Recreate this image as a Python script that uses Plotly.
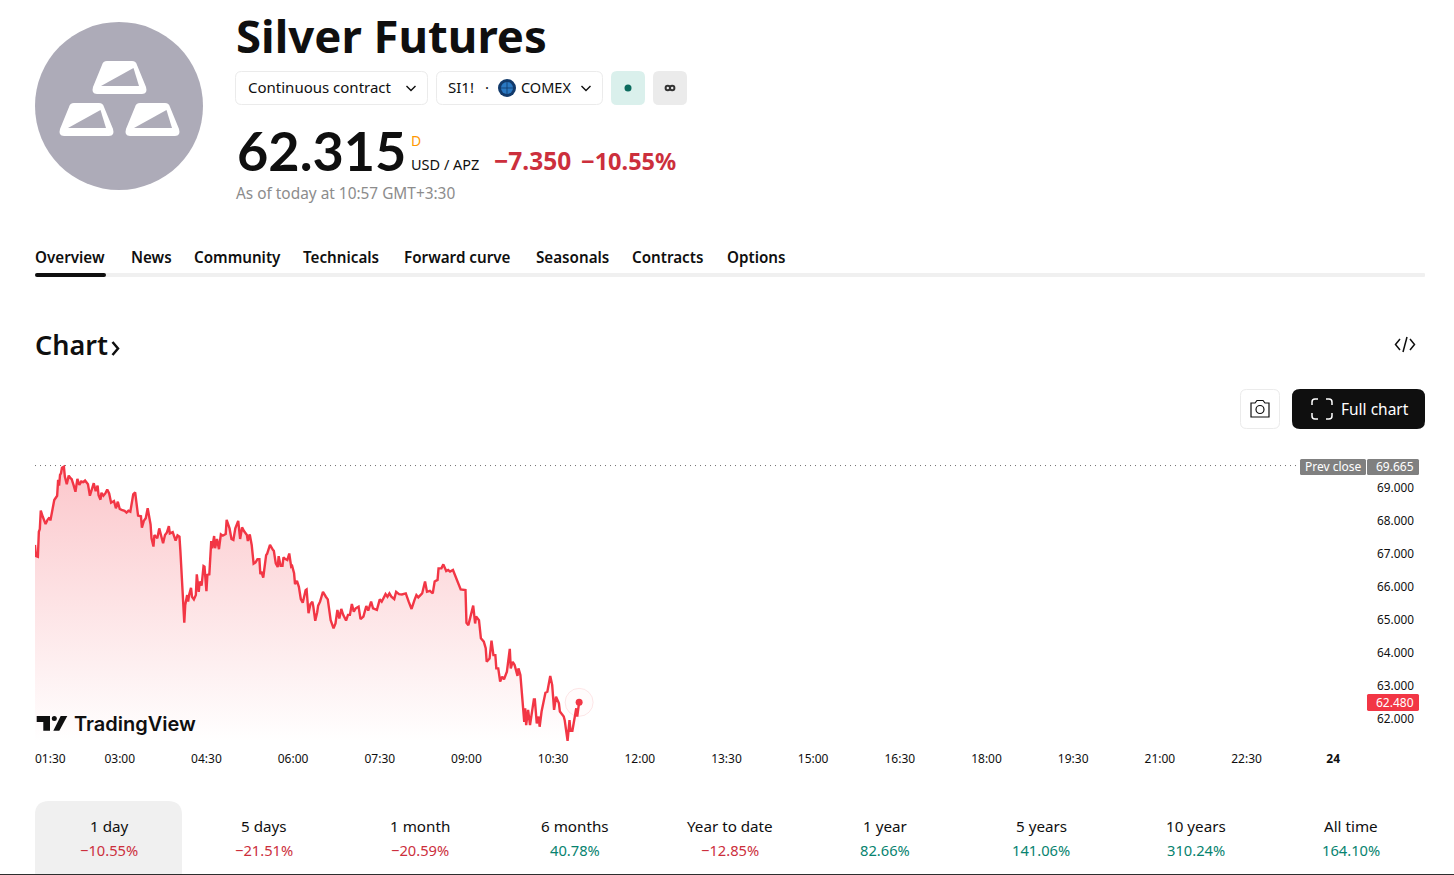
import plotly.graph_objects as go

W = 1454
H = 875
FONT = "Noto Sans"

# minutes since midnight
times = [
    92, 93, 95, 96, 97, 98, 100, 101, 103, 105, 107, 108, 110, 112, 115, 116, 117, 118, 119, 120,
    122, 123, 125, 127, 129, 130, 132, 134, 136, 138, 140, 142, 144, 147, 149, 151, 153, 155, 157, 158,
    160, 161, 163, 165, 167, 169, 171, 174, 176, 178, 180, 182, 185, 187, 189, 191, 194, 196, 197, 199,
    202, 203, 205, 207, 209, 212, 213, 215, 216, 219, 221, 223, 225, 227, 229, 231, 232, 235, 238, 240,
    242, 243, 245, 246, 247, 248, 250, 251, 252, 254, 255, 257, 259, 260, 262, 263, 265, 267, 268, 270,
    271, 273, 275, 276, 278, 279, 281, 283, 285, 287, 290, 291, 294, 296, 298, 300, 303, 305, 307, 309,
    312, 313, 315, 317, 319, 321, 323, 325, 326, 327, 329, 330, 332, 333, 335, 336, 339, 340, 342, 344,
    345, 347, 349, 350, 352, 354, 356, 358, 359, 361, 362, 364, 366, 367, 368, 370, 373, 374, 376, 378,
    380, 381, 383, 385, 386, 388, 391, 394, 396, 399, 402, 404, 406, 408, 410, 412, 415, 417, 419, 421,
    423, 425, 428, 430, 433, 436, 438, 441, 443, 447, 450, 452, 456, 458, 460, 462, 465, 467, 470, 473,
    477, 480, 483, 486, 488, 490, 494, 497, 499, 502, 505, 507, 510, 511, 514, 516, 519, 521, 523, 526,
    528, 531, 534, 539, 540, 542, 545, 547, 549, 550, 553, 555, 558, 560, 561, 564, 566, 568, 570, 571,
    573, 575, 577, 579, 582, 585, 586, 588, 590, 593, 594, 596, 600, 601, 602, 604, 606, 608, 610, 611,
    613, 615, 616, 618, 620, 622, 624, 627, 629, 631, 633, 636, 637, 641, 642, 645, 647, 648, 650, 653,
    654, 655, 657,
]
prices = [
    67.26, 66.92, 66.90, 67.66, 67.74, 68.30, 68.12, 68.02, 67.89, 68.02, 68.09, 68.00, 68.37, 68.62, 68.75, 69.23, 69.06, 69.38, 69.43, 69.60,
    69.63, 69.33, 69.10, 69.36, 69.28, 69.26, 69.08, 68.87, 69.26, 69.08, 69.18, 69.16, 69.21, 69.10, 68.75, 68.98, 69.13, 68.89, 69.06, 68.77,
    68.63, 68.84, 68.75, 68.82, 68.94, 68.82, 68.54, 68.59, 68.37, 68.57, 68.35, 68.32, 68.29, 68.24, 68.30, 68.27, 68.79, 68.85, 68.57, 68.15,
    68.13, 67.78, 67.99, 68.07, 68.37, 67.88, 67.46, 67.21, 67.56, 67.46, 67.76, 67.56, 67.31, 67.56, 67.64, 67.83, 67.61, 67.65, 67.39, 67.55,
    67.51, 67.06, 65.94, 65.24, 64.90, 65.44, 65.74, 65.54, 65.74, 65.96, 65.69, 65.61, 65.74, 66.37, 65.84, 66.15, 66.03, 66.62, 66.60, 65.86,
    66.35, 66.37, 67.38, 67.16, 67.53, 67.16, 67.44, 67.13, 67.58, 67.54, 67.59, 68.02, 67.76, 67.44, 67.41, 67.76, 67.99, 67.44, 67.79, 67.68,
    67.56, 67.38, 67.58, 67.26, 66.69, 66.73, 66.83, 66.83, 66.37, 66.45, 66.27, 66.50, 66.95, 66.99, 67.21, 67.26, 67.11, 67.08, 66.70, 66.59,
    66.92, 66.63, 66.63, 66.88, 66.83, 66.80, 67.00, 66.60, 66.62, 66.40, 66.07, 66.17, 65.99, 65.69, 65.62, 65.51, 65.89, 65.91, 65.19, 65.47,
    65.54, 65.39, 64.96, 65.22, 65.42, 65.54, 65.84, 65.69, 65.61, 64.98, 64.73, 64.88, 65.29, 65.03, 65.32, 65.14, 64.97, 65.14, 65.14, 65.47,
    65.24, 65.34, 65.39, 65.01, 65.09, 65.41, 65.27, 65.54, 65.34, 65.29, 65.61, 65.54, 65.77, 65.69, 65.79, 65.69, 65.62, 65.84, 65.77, 65.76,
    65.79, 65.54, 65.32, 65.59, 65.74, 65.67, 65.79, 66.15, 65.84, 65.87, 65.79, 66.15, 66.20, 66.55, 66.55, 66.67, 66.47, 66.50, 66.45, 66.50,
    66.35, 66.15, 65.91, 65.89, 64.90, 64.83, 65.14, 65.42, 64.88, 65.09, 64.98, 64.43, 64.33, 64.13, 63.72, 63.82, 64.36, 63.92, 63.92, 63.52,
    63.52, 63.12, 63.27, 63.19, 63.42, 64.11, 63.52, 63.72, 63.62, 63.29, 63.52, 63.32, 61.90, 62.31, 61.80, 62.26, 61.80, 62.21, 62.58, 62.58,
    61.85, 62.06, 61.75, 62.21, 62.56, 62.78, 62.81, 63.29, 63.02, 62.26, 62.66, 62.46, 62.21, 62.06, 61.95, 61.32, 61.95, 61.63, 61.63, 62.06,
    62.31, 62.06, 62.49,
]
prev_close = 69.665
last_label = "62.480"
prev_label = "69.665"

x_ticks = [180, 270, 360, 450, 540, 630, 720, 810, 900, 990, 1080, 1170, 1260, 1350, 1440]
x_labels = ["03:00", "04:30", "06:00", "07:30", "09:00", "10:30", "12:00", "13:30", "15:00",
            "16:30", "18:00", "19:30", "21:00", "22:30", "<b>24</b>"]
y_ticks = [62, 63, 64, 65, 66, 67, 68, 69]

nav_tabs = ["Overview", "News", "Community", "Technicals", "Forward curve", "Seasonals", "Contracts", "Options"]
nav_left = [34, 130, 193, 302, 403, 535, 631, 726]

periods = ["1 day", "5 days", "1 month", "6 months", "Year to date", "1 year", "5 years", "10 years", "All time"]
changes = ["−10.55%", "−21.51%", "−20.59%", "40.78%", "−12.85%", "82.66%", "141.06%", "310.24%", "164.10%"]
period_center = [109, 264, 420, 575, 730, 885, 1041, 1196, 1351]

RED = "#f23645"
DARK_RED = "#cc2f3c"
GREEN = "#07836f"
INK = "#0f0f0f"
LOGO = "#adabb8"


def P(x, y):
    return f"{x / W:.5f},{1 - y / H:.5f}"


def path(*cmds):
    # M/L/Q commands given in page pixels
    out = []
    for c in cmds:
        pts = " ".join(P(*p) for p in c[1:])
        out.append(c[0] + pts)
    return " ".join(out)


def rounded(x0, y0, x1, y1, r):
    return path(("M", (x0 + r, y0)), ("L", (x1 - r, y0)), ("Q", (x1, y0), (x1, y0 + r)),
                ("L", (x1, y1 - r)), ("Q", (x1, y1), (x1 - r, y1)), ("L", (x0 + r, y1)),
                ("Q", (x0, y1), (x0, y1 - r)), ("L", (x0, y0 + r)), ("Q", (x0, y0), (x0 + r, y0))) + " Z"


def ingot(x0, y0):
    body = path(("M", (x0 + 15, y0)), ("L", (x0 + 40, y0)), ("Q", (x0 + 44, y0), (x0 + 45, y0 + 4)),
                ("L", (x0 + 54, y0 + 26)), ("Q", (x0 + 56, y0 + 33), (x0 + 50, y0 + 33)),
                ("L", (x0 + 5, y0 + 33)), ("Q", (x0 - 1, y0 + 33), (x0 + 1, y0 + 26)),
                ("L", (x0 + 10, y0 + 4)), ("Q", (x0 + 11, y0), (x0 + 15, y0))) + " Z"
    cut = path(("M", (x0 + 9, y0 + 25)), ("L", (x0 + 47, y0 + 25)), ("L", (x0 + 41.5, y0 + 7))) + " Z"
    return body, cut


shapes = []


def add_path(d, fill=None, line=None, width=1):
    shapes.append(dict(type="path", path=d, xref="paper", yref="paper",
                       fillcolor=fill or "rgba(0,0,0,0)",
                       line=dict(color=line or "rgba(0,0,0,0)", width=width if line else 0)))


def add_circle(cx, cy, r, fill=None, line=None, width=1):
    shapes.append(dict(type="circle", xref="paper", yref="paper",
                       x0=(cx - r) / W, x1=(cx + r) / W, y0=1 - (cy + r) / H, y1=1 - (cy - r) / H,
                       fillcolor=fill or "rgba(0,0,0,0)",
                       line=dict(color=line or "rgba(0,0,0,0)", width=width if line else 0)))


notes = []


def add_text(x, y, text, size, color=INK, anchor="left", weight=400, family=FONT):
    notes.append(dict(x=x / W, y=1 - y / H, xref="paper", yref="paper", text=text, showarrow=False,
                      xanchor=anchor, yanchor="middle", borderpad=0,
                      font=dict(family=family, size=size, color=color, weight=weight)))


# header logo
add_circle(119, 106, 84, fill=LOGO)
for ix, iy in [(92, 61), (59, 103), (125, 103)]:
    body, cut = ingot(ix, iy)
    add_path(body, fill="white")
    add_path(cut, fill=LOGO)

# header text and buttons
add_text(234.5, 34.5, "Silver Futures", 45.5, weight=700)
add_path(rounded(235.5, 71.5, 427.5, 104.5, 6), fill="white", line="#ebebeb")
add_text(246.5, 87.5, "Continuous contract", 15)
add_path(path(("M", (406.5, 86)), ("L", (411, 90.5)), ("L", (415.5, 86))), line=INK, width=1.4)
add_path(rounded(436.5, 71.5, 602.5, 104.5, 6), fill="white", line="#ebebeb")
add_text(446.5, 87.5, "SI1!", 15)
add_text(487, 87.5, "·", 15, anchor="center")
add_circle(507, 88, 9, fill="#123a6b")
add_circle(507, 88, 6, fill="#2a78c2")
add_path(path(("M", (501, 88)), ("L", (513, 88))), line="#123a6b", width=0.8)
add_path(path(("M", (507, 82)), ("L", (507, 94))), line="#123a6b", width=0.8)
add_text(519.5, 87.5, "COMEX", 14.5)
add_path(path(("M", (581.5, 86)), ("L", (586, 90.5)), ("L", (590.5, 86))), line=INK, width=1.4)
add_path(rounded(611, 71, 645, 105, 6), fill="#daf0ec")
add_circle(628, 88, 3.5, fill="#0b6b5e")
add_path(rounded(653, 71, 687, 105, 6), fill="#ebebeb")
add_circle(667.8, 88, 2.2, line="#333333", width=2)
add_circle(672.2, 88, 2.2, line="#333333", width=2)

add_text(236, 150, "62.315", 54, weight=700, family="Lato")
add_text(409.5, 140, "D", 14, color="#ff9800")
add_text(409.5, 164, "USD / APZ", 14.5)
add_text(492.5, 160.5, "−7.350", 24.5, color=DARK_RED, weight=700)
add_text(580, 160.5, "−10.55%", 23.5, color=DARK_RED, weight=700)
add_text(234.5, 193, "As of today at 10:57 GMT+3:30", 15.4, color="#8c8c8c")

# nav tabs
for name, left in zip(nav_tabs, nav_left):
    add_text(left, 256.5, name, 15.2, weight=600)
add_path(rounded(35, 273, 1425, 277, 1), fill="#f0f0f0")
add_path(rounded(35, 273, 106, 277, 2), fill=INK)

# section header
add_text(34, 344.5, "Chart", 27, weight=600)
add_path(path(("M", (112.5, 342)), ("L", (118, 348.5)), ("L", (112.5, 355))), line=INK, width=2.5)
add_path(path(("M", (1400, 339)), ("L", (1395.5, 344.5)), ("L", (1400, 350))), line=INK, width=1.5)
add_path(path(("M", (1410, 339)), ("L", (1414.5, 344.5)), ("L", (1410, 350))), line=INK, width=1.5)
add_path(path(("M", (1407, 337)), ("L", (1403, 352))), line=INK, width=1.5)

# camera and full chart buttons
add_path(rounded(1240.5, 389.5, 1279.5, 428.5, 6), fill="white", line="#ebebeb")
add_path(path(("M", (1251, 403)), ("L", (1255, 403)), ("L", (1257, 400.5)), ("L", (1263, 400.5)), ("L", (1265, 403)),
              ("L", (1269, 403)), ("L", (1269, 417)), ("L", (1251, 417))) + " Z", line=INK, width=1.2)
add_circle(1260, 409.5, 4, line=INK, width=1.2)
add_path(rounded(1292, 389, 1425, 429, 8), fill=INK)
for sx, sy in [(1312, 399), (1332, 399), (1312, 419), (1332, 419)]:
    dx = 1 if sx == 1312 else -1
    dy = 1 if sy == 399 else -1
    add_path(path(("M", (sx, sy + 6 * dy)), ("L", (sx, sy + 3 * dy)), ("Q", (sx, sy), (sx + 3 * dx, sy)),
                  ("L", (sx + 6 * dx, sy))), line="white", width=1.5)
add_text(1339.5, 408.5, "Full chart", 15.5, color="white")

# price badges
shapes.append(dict(type="line", xref="paper", yref="y", x0=35 / W, x1=1297 / W, y0=prev_close, y1=prev_close,
                   line=dict(color="#707070", width=1, dash="1px,4px")))
add_path(rounded(1300, 459, 1366, 475, 1.5), fill="#808080")
add_path(rounded(1367, 459, 1419, 475, 1.5), fill="#808080")
add_text(1333, 466.5, "Prev close", 12, color="white", anchor="center")
add_text(1395, 466.5, prev_label, 12, color="white", anchor="center")
add_path(rounded(1367, 694, 1419, 711, 1.5), fill=RED)
add_text(1395, 702.5, last_label, 12, color="white", anchor="center")

# TradingView mark
add_path(path(("M", (36.7, 716)), ("L", (50, 716)), ("L", (50, 730.7)), ("L", (43.3, 730.7)), ("L", (43.3, 722)),
              ("L", (36.7, 722))) + " Z", fill=INK)
add_circle(54.3, 718.4, 2.5, fill=INK)
add_path(path(("M", (60.7, 716)), ("L", (67.3, 716)), ("L", (59.3, 730.7)), ("L", (53.3, 730.7))) + " Z", fill=INK)
add_text(73, 724, "TradingView", 20, weight=600, family="Inter")

# first time label sits clamped inside the plot
add_text(50, 758, "01:30", 12, anchor="center")

# period row
add_path(rounded(35, 801, 182, 885, 14), fill="#f0f0f0")
for name, chg, cx in zip(periods, changes, period_center):
    add_text(cx, 826, name, 15.2, anchor="center")
    add_text(cx, 850, chg, 14.7, anchor="center", color=DARK_RED if chg.startswith("−") else GREEN)
add_path(path(("M", (0, 874.5)), ("L", (W, 874.5))), line="#2e2e2e", width=1.2)

fig = go.Figure()
fig.add_trace(go.Scatter(
    x=times, y=prices, mode="lines", line=dict(color=RED, width=2.4), fill="tozeroy",
    fillgradient=dict(type="vertical", start=69.7, stop=61.3,
                      colorscale=[[0, "rgba(242,54,69,0.28)"], [1, "rgba(242,54,69,0)"]]),
    showlegend=False,
))
fig.add_trace(go.Scatter(
    x=times[-1:], y=prices[-1:], mode="markers",
    marker=dict(size=28, color="rgba(242,54,69,0.015)", line=dict(color="rgba(242,54,69,0.12)", width=1)),
    showlegend=False,
))
fig.add_trace(go.Scatter(
    x=times[-1:], y=prices[-1:], mode="markers", marker=dict(size=7, color=RED), showlegend=False,
))

fig.update_layout(
    width=W, height=H, margin=dict(l=0, r=0, t=0, b=0), autosize=False,
    paper_bgcolor="white", plot_bgcolor="rgba(0,0,0,0)",
    font=dict(family=FONT, size=12, color=INK),
    shapes=shapes, annotations=notes,
    xaxis=dict(domain=[35 / W, 1365 / W], range=[92, 1473], tickvals=x_ticks, ticktext=x_labels,
               showgrid=False, zeroline=False, showline=False, ticks="", ticklabelstandoff=5,
               tickfont=dict(size=12, color=INK), fixedrange=True),
    yaxis=dict(domain=[1 - 745 / H, 1 - 455 / H], range=[61.197, 69.985], tickvals=y_ticks, tickformat=".3f",
               side="right", showgrid=False, zeroline=False, showline=False, ticks="", ticklabelstandoff=11,
               tickfont=dict(size=11.8, color=INK), fixedrange=True),
)

fig.write_html("out.html", config={"displayModeBar": False},
               post_script="document.body.style.margin='0';document.body.style.overflow='hidden';")
